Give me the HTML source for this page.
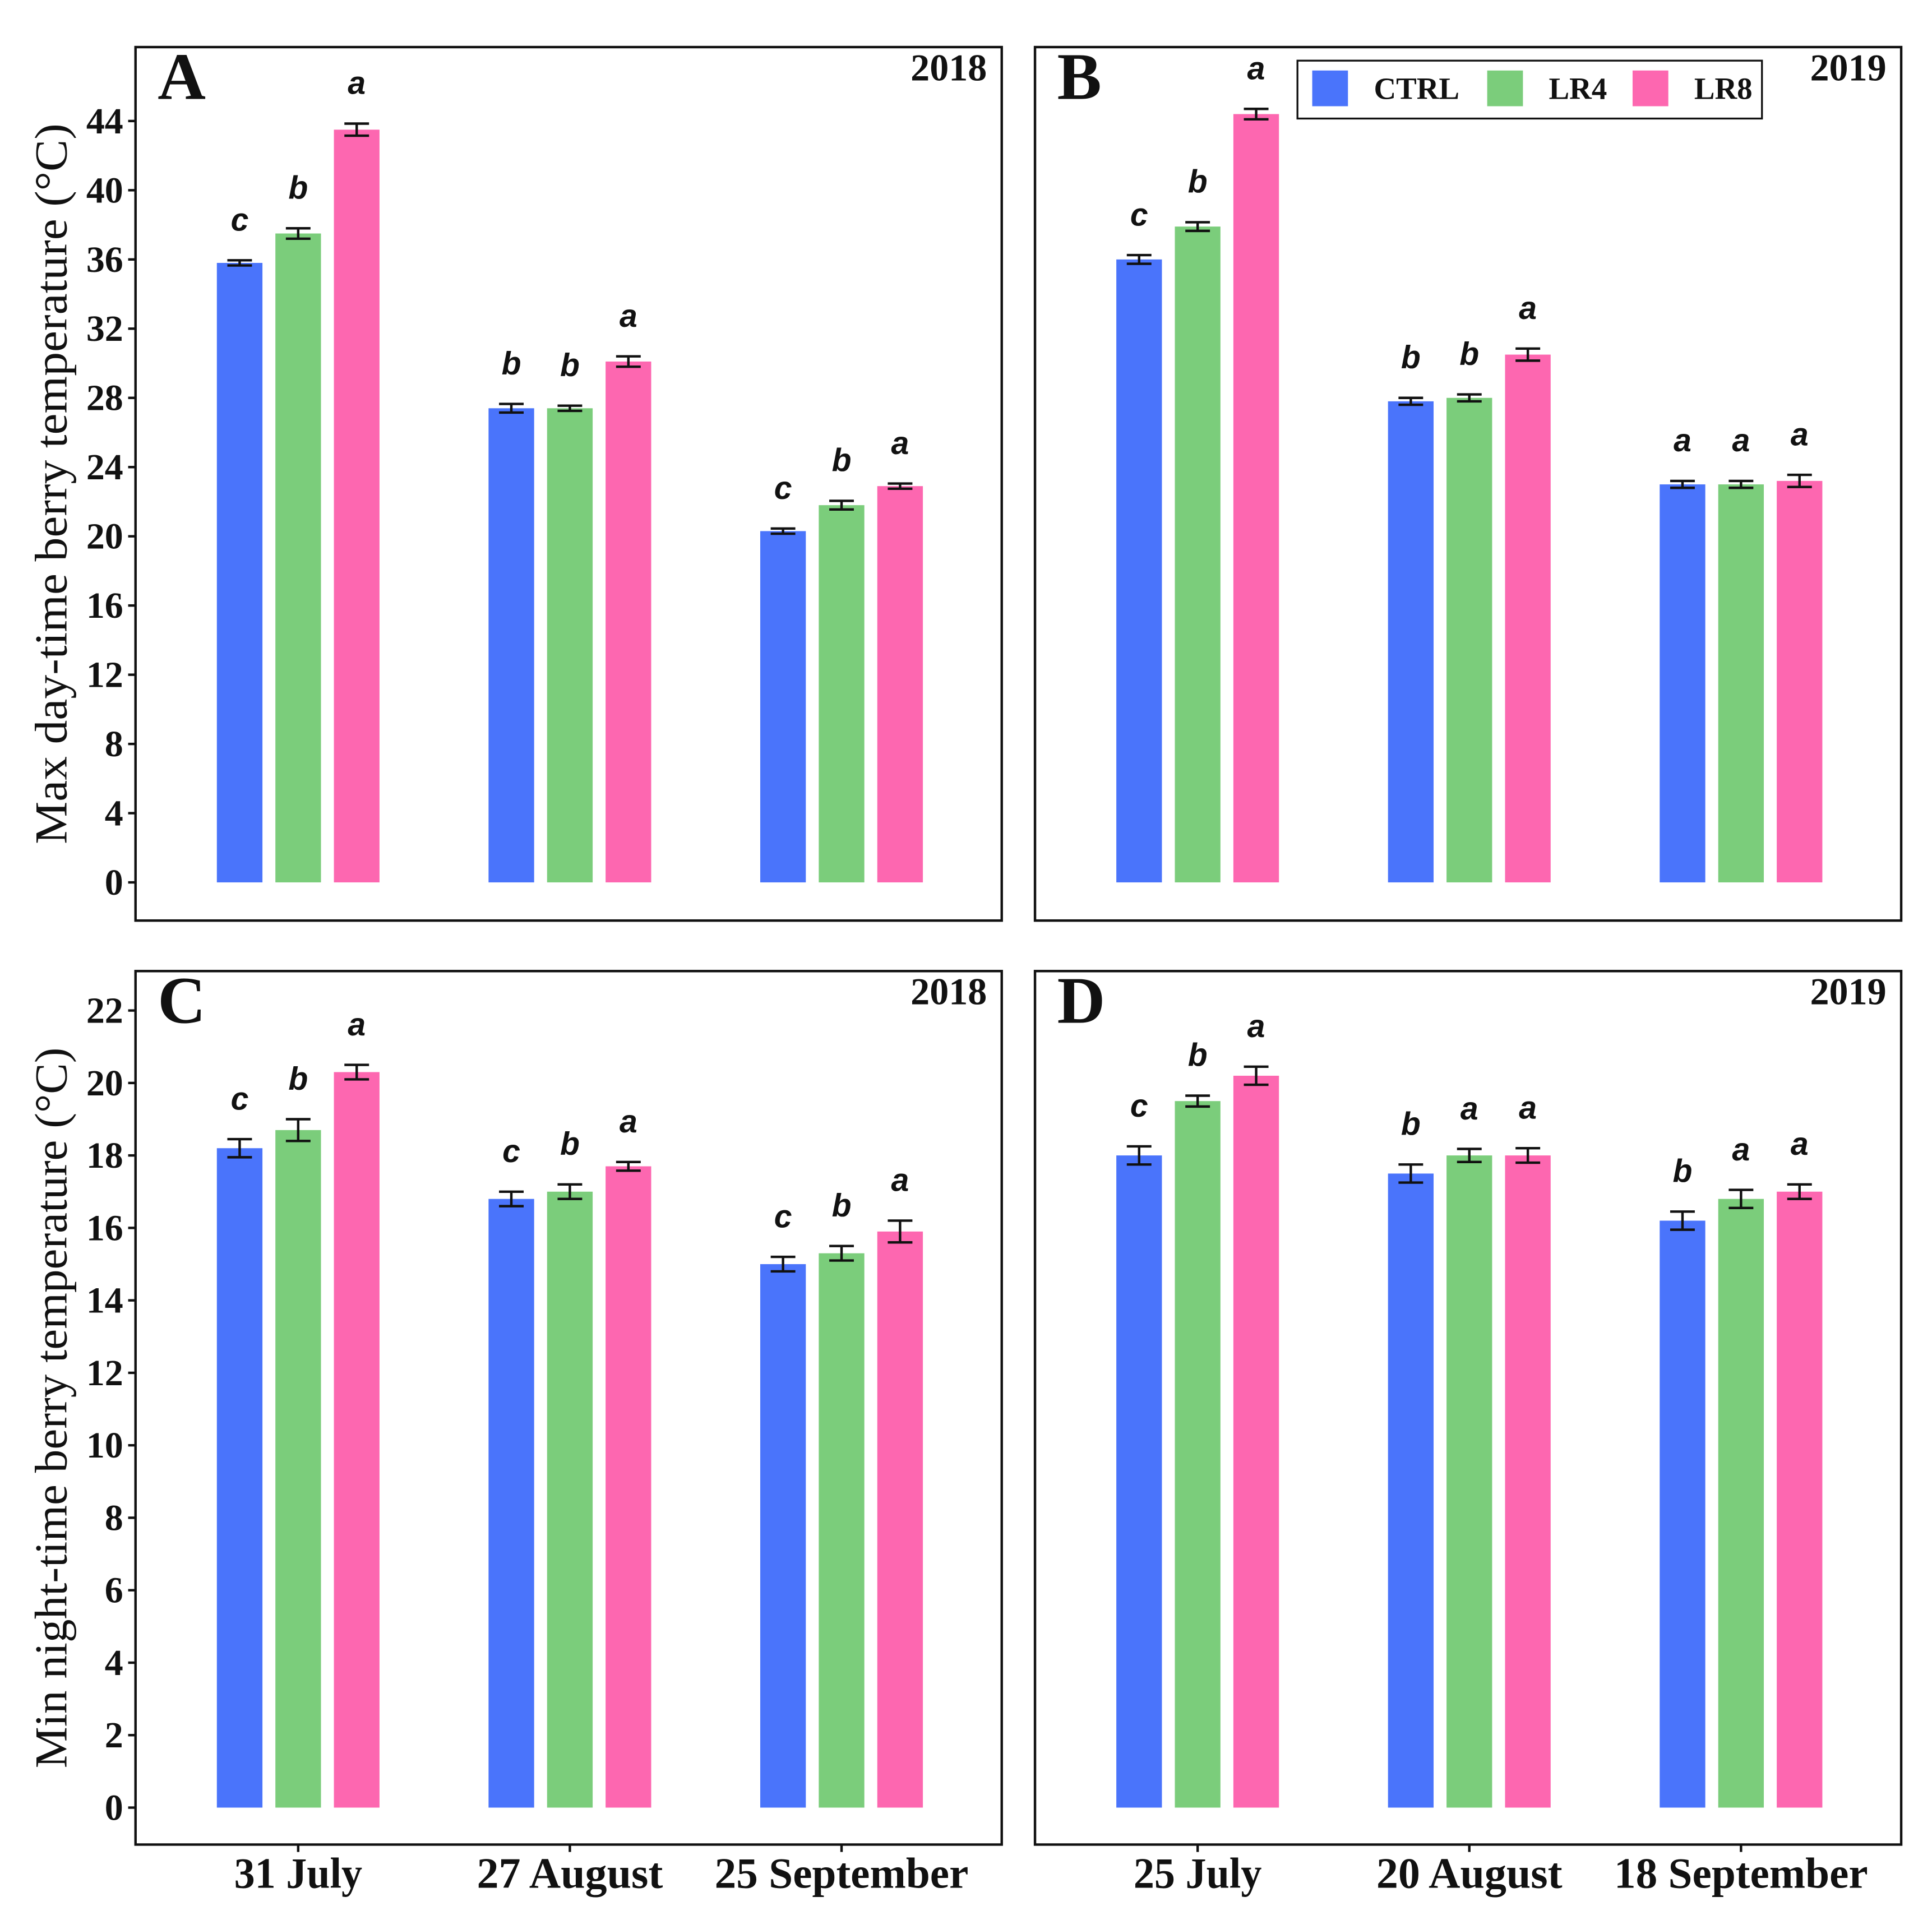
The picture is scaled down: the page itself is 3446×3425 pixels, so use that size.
<!DOCTYPE html>
<html><head><meta charset="utf-8"><style>
html,body{margin:0;padding:0;background:#fff;}
svg{display:block;}
.tick{font-family:"Liberation Serif",serif;font-weight:bold;font-size:30px;fill:#111;}
.ytitle{font-family:"Liberation Serif",serif;font-size:37px;fill:#111;}
.plab{font-family:"Liberation Serif",serif;font-weight:bold;font-size:54px;fill:#111;}
.year{font-family:"Liberation Serif",serif;font-weight:bold;font-size:31px;fill:#111;}
.sig{font-family:"Liberation Sans",sans-serif;font-weight:bold;font-style:italic;font-size:26px;fill:#111;}
.xlab{font-family:"Liberation Serif",serif;font-weight:bold;font-size:35px;fill:#111;}
.leg{font-family:"Liberation Serif",serif;font-weight:bold;font-size:25px;fill:#111;}
</style></head><body>
<svg id="chart" width="3446" height="3425" viewBox="0 0 1568 1558" xmlns="http://www.w3.org/2000/svg"></svg>
<script>
const series = ["CTRL","LR4","LR8"];
const colors = ["#4A74FB","#7BCD7B","#FD67B0"];
const datesA = ["31 July","27 August","25 September"];
const datesB = ["25 July","20 August","18 September"];
const valuesA = [[35.8,37.5,43.5],[27.4,27.4,30.1],[20.3,21.8,22.9]];
const errorsA = [[0.15,0.3,0.35],[0.25,0.15,0.3],[0.15,0.25,0.15]];
const lettersA = [["c","b","a"],["b","b","a"],["c","b","a"]];
const valuesB = [[36.0,37.9,44.4],[27.8,28.0,30.5],[23.0,23.0,23.2]];
const errorsB = [[0.25,0.25,0.3],[0.2,0.2,0.35],[0.2,0.2,0.35]];
const lettersB = [["c","b","a"],["b","b","a"],["a","a","a"]];
const valuesC = [[18.2,18.7,20.3],[16.8,17.0,17.7],[15.0,15.3,15.9]];
const errorsC = [[0.25,0.3,0.2],[0.2,0.2,0.12],[0.2,0.2,0.3]];
const lettersC = [["c","b","a"],["c","b","a"],["c","b","a"]];
const valuesD = [[18.0,19.5,20.2],[17.5,18.0,18.0],[16.2,16.8,17.0]];
const errorsD = [[0.25,0.15,0.25],[0.25,0.18,0.2],[0.25,0.25,0.2]];
const lettersD = [["c","b","a"],["b","a","a"],["b","a","a"]];
const ticksTop = [0,4,8,12,16,20,24,28,32,36,40,44];
const ticksBot = [0,2,4,6,8,10,12,14,16,18,20,22];

const NS="http://www.w3.org/2000/svg";
const svg=document.getElementById('chart');
function mk(tag,attrs,parent){const e=document.createElementNS(NS,tag);for(const k in attrs)e.setAttribute(k,attrs[k]);(parent||svg).appendChild(e);return e;}
const xlabLen={"31 July":104,"27 August":151,"25 September":206,"25 July":104,"20 August":151,"18 September":206};

function panel(opt){
  const g=mk('g',{});
  
  
  const x0=opt.x0,x1=opt.x0+703,y0=opt.y0,y1=opt.y0+709;
  const yScale=v=>opt.zeroY-(v-0)*(opt.zeroY-opt.topY)/opt.topV;
  const fr=mk('rect',{x:x0,y:y0,width:703,height:709,fill:'none',stroke:'#111','stroke-width':2},g);
  
  
  for(let gi=0;gi<3;gi++){
    for(let si=0;si<3;si++){
      const bx=x0+66+gi*220.5+si*47.5;
      const v=opt.values[gi][si], e=opt.errors[gi][si];
      const r=mk('rect',{x:bx,y:yScale(v),width:37,height:yScale(0)-yScale(v),fill:colors[si]},g);
      
      
      const cx=bx+18.5;
      const eb=mk('path',{d:`M${cx-10},${yScale(v+e)}H${cx+10}M${cx},${yScale(v+e)}V${yScale(v-e)}M${cx-10},${yScale(v-e)}H${cx+10}`,stroke:'#111','stroke-width':2,fill:'none'},g);
      
      
      const t=mk('text',{x:cx,y:yScale(v+e)-24,'text-anchor':'middle',class:'sig'},g);
      t.textContent=opt.letters[gi][si];
      
      
    }
  }
  if(opt.showY){
    opt.ticks.forEach(tv=>{
      const y=yScale(tv);
      const tk=mk('line',{x1:x0-6,x2:x0,y1:y,y2:y,stroke:'#111','stroke-width':2},g);
      
      
      const t=mk('text',{x:x0-10,y:y+10,'text-anchor':'end',class:'tick'},g);
      t.textContent=tv;
      
      
    });
    const cy=(y0+y1)/2;
    const tt=mk('text',{x:0,y:0,'text-anchor':'middle',class:'ytitle',textLength:585,lengthAdjust:'spacingAndGlyphs',transform:`translate(54,${cy}) rotate(-90)`},g);
    tt.textContent=opt.ytitle;
    
    
  }
  if(opt.dates){
    for(let gi=0;gi<3;gi++){
      const cx=x0+66+gi*220.5+18.5+47.5;
      const tk=mk('line',{x1:cx,x2:cx,y1:y1,y2:y1+6,stroke:'#111','stroke-width':2},g);
      
      
      const t=mk('text',{x:cx,y:y1+35,'text-anchor':'middle',class:'xlab',textLength:xlabLen[opt.dates[gi]],lengthAdjust:'spacingAndGlyphs'},g);
      t.textContent=opt.dates[gi];
      
      
    }
  }
  const pl=mk('text',{x:x0+18,y:y0+42,class:'plab'},g);
  pl.textContent=opt.letter;
  
  
  const yr=mk('text',{x:x1-12,y:y0+27,'text-anchor':'end',class:'year'},g);
  yr.textContent=opt.year;
  
  
}
panel({letter:'A',year:'2018',x0:110,y0:38,zeroY:716,topY:98,topV:44,values:valuesA,errors:errorsA,letters:lettersA,showY:true,ticks:ticksTop,ytitle:'Max day-time berry temperature (°C)'});
panel({letter:'B',year:'2019',x0:840,y0:38,zeroY:716,topY:98,topV:44,values:valuesB,errors:errorsB,letters:lettersB,showY:false});
panel({letter:'C',year:'2018',x0:110,y0:788,zeroY:1467,topY:820,topV:22,values:valuesC,errors:errorsC,letters:lettersC,showY:true,ticks:ticksBot,ytitle:'Min night-time berry temperature (°C)',dates:datesA});
panel({letter:'D',year:'2019',x0:840,y0:788,zeroY:1467,topY:820,topV:22,values:valuesD,errors:errorsD,letters:lettersD,showY:false,dates:datesB});
const lg=mk('g',{});


const lb=mk('rect',{x:1053,y:49,width:377,height:47,fill:'#fff',stroke:'#111','stroke-width':1.5},lg);


const lx=[1065,1207,1325];
series.forEach((s,i)=>{
  const r=mk('rect',{x:lx[i],y:57,width:29,height:29,fill:colors[i]},lg);
  
  
  const t=mk('text',{x:lx[i]+50,y:80,class:'leg'},lg);
  t.textContent=s;
  
  
});
</script>
</body></html>
